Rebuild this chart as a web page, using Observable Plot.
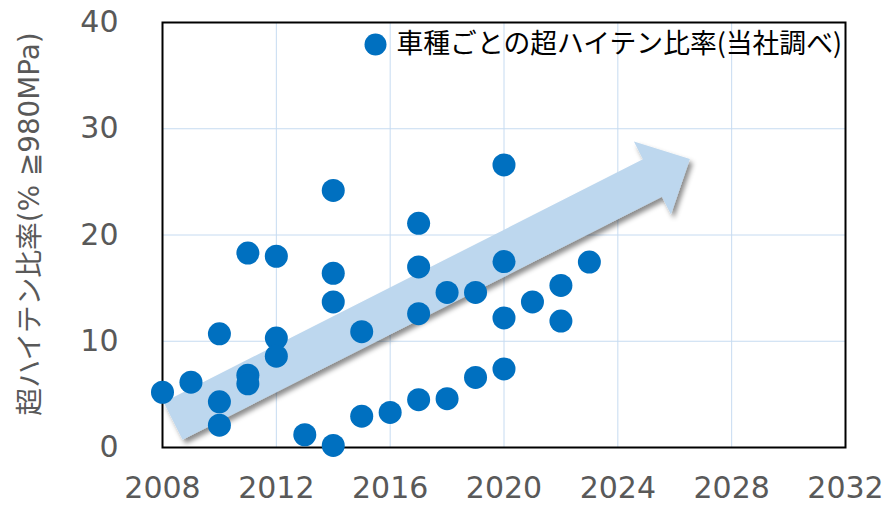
<!DOCTYPE html>
<html>
<head>
<meta charset="utf-8">
<script src="https://cdn.jsdelivr.net/npm/d3@7"></script>
<script src="https://cdn.jsdelivr.net/npm/@observablehq/plot@0.6"></script>
<style>
  html, body { margin: 0; padding: 0; background: #fff; }
  #chart { width: 887px; height: 505px; }
</style>
</head>
<body>
<div id="chart"></div>
<script>
const years = [2008, 2009, 2010, 2010, 2010, 2011, 2011, 2011, 2012, 2012, 2012, 2013,
  2014, 2014, 2014, 2014, 2015, 2015, 2016, 2017, 2017, 2017, 2017, 2018, 2018,
  2019, 2019, 2020, 2020, 2020, 2020, 2021, 2022, 2022, 2023];
const ratios = [5.2, 6.15, 10.7, 4.3, 2.1, 18.3, 6.8, 6.0, 18.0, 10.3, 8.6, 1.2,
  24.2, 16.4, 13.7, 0.2, 10.9, 2.95, 3.3, 21.1, 17.0, 12.6, 4.5, 14.6, 4.6,
  14.6, 6.6, 26.6, 17.5, 12.2, 7.4, 13.7, 15.25, 11.9, 17.45];
const xTicks = [2008, 2012, 2016, 2020, 2024, 2028, 2032];
const yTicks = [0, 10, 20, 30, 40];
const seriesName = "車種ごとの超ハイテン比率(当社調べ)";
const yLabel = "超ハイテン比率(% ≧980MPa)";
// trend arrow (annotation) start / end in data units
const arrowStart = [2008.39, 2.45];
const arrowEnd = [2026.55, 27.1];

const data = years.map((y, i) => ({year: y, ratio: ratios[i]}));

const blue = "#0070C0";
const gray = "#595959";

function trendArrow(index, scales, values, dimensions) {
  const ns = "http://www.w3.org/2000/svg";
  const x0 = scales.x(arrowStart[0]), y0 = scales.y(arrowStart[1]);
  const x1 = scales.x(arrowEnd[0]), y1 = scales.y(arrowEnd[1]);
  const dx = x1 - x0, dy = y1 - y0, L = Math.hypot(dx, dy);
  const ux = dx / L, uy = dy / L, nx = -uy, ny = ux;
  const shaftW = 21, headW = 41, headL = 42;
  const bx = x1 - ux * headL, by = y1 - uy * headL;
  const pts = [
    [x0 + nx * shaftW, y0 + ny * shaftW],
    [bx + nx * shaftW, by + ny * shaftW],
    [bx + nx * headW, by + ny * headW],
    [x1, y1],
    [bx - nx * headW, by - ny * headW],
    [bx - nx * shaftW, by - ny * shaftW],
    [x0 - nx * shaftW, y0 - ny * shaftW]
  ];
  const g = document.createElementNS(ns, "g");
  const defs = document.createElementNS(ns, "defs");
  defs.innerHTML = '<filter id="arrowShadow" x="-20%" y="-20%" width="140%" height="140%">' +
    '<feDropShadow dx="3" dy="4" stdDeviation="2.5" flood-color="#000" flood-opacity="0.45"/></filter>';
  g.appendChild(defs);
  const poly = document.createElementNS(ns, "polygon");
  poly.setAttribute("points", pts.map(p => p.join(",")).join(" "));
  poly.setAttribute("fill", "#BDD7EE");
  poly.setAttribute("filter", "url(#arrowShadow)");
  g.appendChild(poly);
  return g;
}

const chart = Plot.plot({
  width: 887,
  height: 505,
  marginLeft: 162,
  marginRight: 42,
  marginTop: 22,
  marginBottom: 58,
  style: {fontFamily: "'DejaVu Sans', sans-serif", background: "#fff", overflow: "visible"},
  x: {domain: [2008, 2032], ticks: xTicks},
  y: {domain: [0, 40], ticks: yTicks},
  marks: [
    Plot.gridX(xTicks, {stroke: "#C6DBF1", strokeOpacity: 1, strokeWidth: 1}),
    Plot.gridY(yTicks, {stroke: "#C6DBF1", strokeOpacity: 1, strokeWidth: 1}),
    Plot.frame({stroke: "#000", strokeWidth: 2}),
    Plot.axisX(xTicks, {tickSize: 0, tickPadding: 29, fontSize: 30, fill: gray, label: null, tickFormat: d => String(d)}),
    Plot.axisY(yTicks, {tickSize: 0, tickPadding: 44, fontSize: 30, fill: gray, label: null}),
    Plot.text([yLabel], {frameAnchor: "left", textAnchor: "middle", lineAnchor: "middle", rotate: -90, dx: -132, dy: -11,
      fontSize: 27.8, fill: gray,
      fontFamily: "'DejaVu Sans', 'Noto Sans CJK JP', sans-serif", text: d => d}),
    trendArrow,
    Plot.dot(data, {x: "year", y: "ratio", r: 11.5, fill: blue, stroke: "none"}),
    Plot.dot([seriesName], {frameAnchor: "top-left", dx: 213, dy: 22, r: 11, fill: blue}),
    Plot.text([seriesName], {frameAnchor: "top-left", dx: 234, dy: 22, textAnchor: "start", lineAnchor: "middle",
      fontSize: 26.8, fill: "#000", fontFamily: "'Noto Sans CJK JP', sans-serif", text: d => d})
  ]
});
document.getElementById("chart").appendChild(chart);
</script>
</body>
</html>
